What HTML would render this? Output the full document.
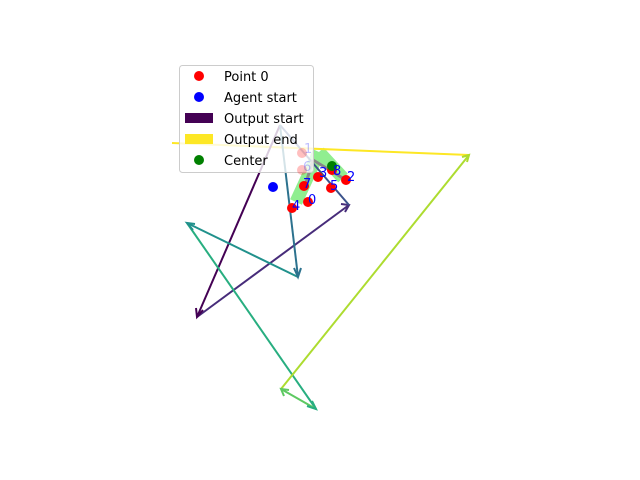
<!DOCTYPE html>
<html><head><style>body{margin:0;background:#fff}svg{display:block}</style></head><body>
<svg width="640" height="480" viewBox="0 0 640 480" xmlns="http://www.w3.org/2000/svg" font-family="DejaVu Sans, Liberation Sans, sans-serif">
<g stroke-linecap="butt" stroke="#90ee90" stroke-width="13">
<line x1="296" y1="202" x2="319" y2="152"/>
<line x1="319" y1="152" x2="343" y2="178"/>
</g>
<g fill="none" stroke-width="2">
<line x1="469" y1="155" x2="172" y2="143" stroke="#fde725"/>
<line x1="280" y1="125" x2="197" y2="317" stroke="#440154"/>
<path d="M197,317 L349,205" stroke="#472c7a"/><path d="M341,204 L349,205 L345,212" stroke="#472c7a"/>
<line x1="349" y1="205" x2="280" y2="125" stroke="#3b528b"/>
<line x1="280" y1="125" x2="298" y2="277" stroke="#2c728e"/>
<line x1="298" y1="277" x2="187" y2="223" stroke="#21918c"/>
<line x1="187" y1="223" x2="316" y2="409" stroke="#28ae80"/>
<line x1="316" y1="409" x2="281" y2="389" stroke="#5ec962"/>
<line x1="281" y1="389" x2="469" y2="155" stroke="#addc30"/>
<path d="M196,308 L197,317 L203,310" stroke="#440154"/>
<path d="M294,268 L298,277 L301,268" stroke="#2c728e"/>
<path d="M195,224 L187,223 L193,230" stroke="#21918c"/>
<path d="M307,406 L316,409 L312,401" stroke="#28ae80"/>
<path d="M284,396 L281,389 L289,390" stroke="#5ec962"/>
<path d="M462,157 L469,155 L467,162" stroke="#addc30"/>
</g>
<g stroke="#888" stroke-width="3"><line x1="313" y1="160" x2="346" y2="180"/><line x1="313" y1="160" x2="305" y2="186"/></g>
<g fill="#f00">
<circle cx="318" cy="177" r="5"/><circle cx="332" cy="170" r="5"/><circle cx="346" cy="180" r="5"/>
<circle cx="304" cy="186" r="5"/><circle cx="331" cy="188" r="5"/><circle cx="308" cy="202" r="5"/><circle cx="292" cy="208" r="5"/>
</g>
<circle cx="332" cy="166" r="5" fill="#008000"/>
<circle cx="273" cy="187" r="5" fill="#00f"/>
<g fill="#00f" font-size="13">
<text x="319" y="177">3</text><text x="333" y="175">8</text><text x="347" y="181">2</text>
<text x="303" y="188">7</text><text x="330" y="190">5</text><text x="308" y="204">0</text><text x="292" y="210">4</text>
</g>
<rect x="179.5" y="65.5" width="134" height="107" rx="3" fill="#fff" fill-opacity="0.8" stroke="#ccc"/>
<circle cx="302" cy="153" r="5" fill="#f00" opacity="0.25"/><circle cx="302" cy="170" r="5" fill="#f00" opacity="0.25"/>
<text x="304" y="153" font-size="13" fill="#00f" opacity="0.25">1</text><text x="303" y="171" font-size="13" fill="#00f" opacity="0.25">6</text>
<g font-size="13" fill="#000">
<circle cx="199" cy="76" r="5" fill="#f00"/><text x="224" y="81">Point 0</text>
<circle cx="199" cy="97" r="5" fill="#00f"/><text x="224" y="102">Agent start</text>
<rect x="185" y="113" width="28" height="10" fill="#440154"/><text x="224" y="123">Output start</text>
<rect x="185" y="134" width="28" height="10" fill="#fde725"/><text x="224" y="144">Output end</text>
<circle cx="199" cy="160" r="5" fill="#008000"/><text x="224" y="165">Center</text>
</g>
</svg>
</body></html>
